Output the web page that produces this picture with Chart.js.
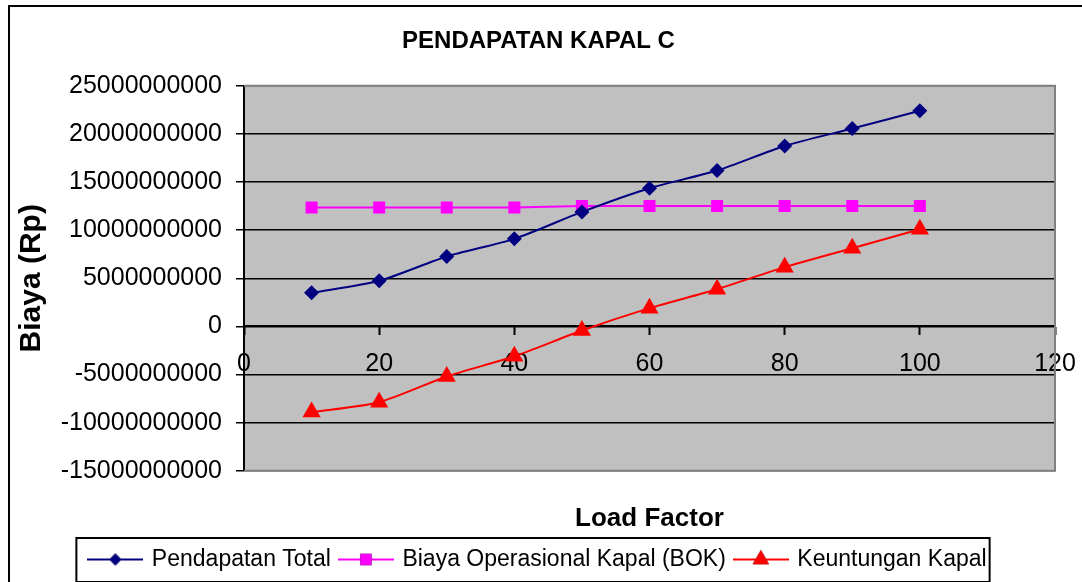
<!DOCTYPE html>
<html lang="id">
<head>
    <meta charset="UTF-8">
    <title>Pendapatan Kapal C</title>
    <script src="https://cdn.jsdelivr.net/npm/chart.js"></script>
    <style>
        body { margin: 0; background: #fff; overflow: hidden; }
        .wrap { width: 1082px; height: 582px; }
    </style>
</head>
<body>
    <div class="wrap">
        <canvas id="myChart"></canvas>
    </div>
<script>
    // load factor (x) and the three series
    const loadFactor = [10, 20, 30, 40, 50, 60, 70, 80, 90, 100];
    const pendapatanTotal = [3490000000, 4740000000, 7270000000, 9100000000, 11900000000, 14360000000, 16200000000, 18750000000, 20560000000, 22400000000];
    const biayaOperasional = [12350000000, 12350000000, 12350000000, 12350000000, 12500000000, 12500000000, 12500000000, 12500000000, 12500000000, 12500000000];
    const keuntungan = [-8900000000, -7870000000, -5200000000, -3100000000, -430000000, 1900000000, 3870000000, 6160000000, 8130000000, 10100000000];
    const seriesNames = ['Pendapatan Total', 'Biaya Operasional Kapal (BOK)', 'Keuntungan Kapal'];

    const toPoints = vals => loadFactor.map((x, i) => ({ x: x, y: vals[i] }));

    // small line + marker icons for the legend
    const makeIcon = (color, style, r) => {
        const c = document.createElement('canvas');
        c.width = 56; c.height = 24;
        const g = c.getContext('2d');
        g.strokeStyle = color;
        g.lineWidth = 2;
        g.beginPath(); g.moveTo(0, 12); g.lineTo(56, 12); g.stroke();
        Chart.helpers.drawPoint(g, { pointStyle: style, radius: r, borderWidth: 0 }, 28, 12);
        g.fillStyle = color;
        g.fill();
        return c;
    };

    const plotBg = {
        id: 'plotBg',
        beforeDraw(chart) {
            const { ctx, chartArea: a } = chart;
            ctx.save();
            ctx.fillStyle = '#fff';
            ctx.fillRect(0, 0, chart.width, chart.height);
            ctx.strokeStyle = '#000';
            ctx.lineWidth = 2;
            ctx.strokeRect(9, 6, 1200, 700);
            ctx.fillStyle = '#c0c0c0';
            ctx.fillRect(a.left, a.top, a.right - a.left, a.bottom - a.top);
            ctx.restore();
        },
        beforeDatasetsDraw(chart) {
            const { ctx, chartArea: a } = chart;
            ctx.save();
            ctx.strokeStyle = '#808080';
            ctx.lineWidth = 2;
            ctx.beginPath();
            ctx.moveTo(a.left, a.top); ctx.lineTo(a.right, a.top);
            ctx.lineTo(a.right, a.bottom); ctx.lineTo(a.left, a.bottom);
            ctx.stroke();
            ctx.restore();
        },
        afterDraw(chart) {
            const hb = chart.legend.legendHitBoxes;
            if (!hb || !hb.length) return;
            const { ctx } = chart;
            const first = hb[0], last = hb[hb.length - 1];
            ctx.save();
            ctx.strokeStyle = '#000';
            ctx.lineWidth = 2;
            ctx.strokeRect(first.left - 14, first.top - 10, last.left + last.width - first.left + 17, 44);
            ctx.restore();
        }
    };

    const data = {
        datasets: [{
            label: seriesNames[0],
            data: toPoints(pendapatanTotal),
            borderColor: '#000080',
            backgroundColor: '#000080',
            pointStyle: 'rectRot',
            pointRadius: 7.5,
        }, {
            label: seriesNames[1],
            data: toPoints(biayaOperasional),
            borderColor: '#ff00ff',
            backgroundColor: '#ff00ff',
            pointStyle: 'rect',
            pointRadius: 8.5,
        }, {
            label: seriesNames[2],
            data: toPoints(keuntungan),
            borderColor: '#ff0000',
            backgroundColor: '#ff0000',
            pointStyle: 'triangle',
            pointRadius: 10.5,
        }]
    };

    const icons = [
        makeIcon('#000080', 'rectRot', 6),
        makeIcon('#ff00ff', 'rect', 8),
        makeIcon('#ff0000', 'triangle', 9.5),
    ];

    const config = {
        type: 'line',
        data: data,
        options: {
            responsive: true,
            maintainAspectRatio: false,
            animation: false,
            layout: { padding: { left: 22, right: 27, top: 0, bottom: 1 } },
            elements: {
                line: { borderWidth: 2, tension: 0.25 },
                point: { borderWidth: 0, hoverRadius: 8 }
            },
            plugins: {
                title: {
                    display: true,
                    text: 'PENDAPATAN KAPAL C',
                    color: '#000',
                    font: { family: 'Liberation Sans, Arial', size: 24, weight: 'bold' },
                    padding: { top: 27, bottom: 30 }
                },
                subtitle: {
                    display: true,
                    position: 'bottom',
                    fullSize: false,
                    weight: 500,
                    text: 'Load Factor',
                    color: '#000',
                    font: { family: 'Liberation Sans, Arial', size: 26, weight: 'bold' },
                    padding: { top: 32, bottom: 4 }
                },
                legend: {
                    position: 'bottom',
                    labels: {
                        usePointStyle: true,
                        pointStyleWidth: 50,
                        padding: 10,
                        color: '#000',
                        font: { family: 'Liberation Sans, Arial', size: 23 },
                        generateLabels: chart => Chart.defaults.plugins.legend.labels.generateLabels(chart)
                            .map((l, i) => ({ ...l, pointStyle: icons[i] }))
                    }
                },
                tooltip: { enabled: true }
            },
            scales: {
                x: {
                    type: 'linear',
                    position: { y: 0 },
                    min: 0,
                    max: 120,
                    afterFit: scale => { scale.paddingLeft = 0; scale.paddingRight = 0; },
                    ticks: {
                        stepSize: 20,
                        color: '#000',
                        padding: 15,
                        font: { family: 'Liberation Sans, Arial', size: 25 }
                    },
                    grid: { drawOnChartArea: false, tickLength: 8, tickColor: '#000', tickWidth: 2 },
                    border: { color: '#000', width: 2 }
                },
                y: {
                    min: -15000000000,
                    max: 25000000000,
                    afterFit: scale => { scale.width = 222; },
                    ticks: {
                        stepSize: 5000000000,
                        color: '#000',
                        padding: 14,
                        font: { family: 'Liberation Sans, Arial', size: 25 },
                        callback: v => String(v)
                    },
                    grid: {
                        color: c => (c.tick && (c.tick.value === 25000000000 || c.tick.value === -15000000000)) ? '#808080' : '#000',
                        lineWidth: 1.5,
                        tickLength: 8,
                        tickColor: '#000'
                    },
                    border: { color: '#000', width: 2 },
                    title: {
                        display: true,
                        text: 'Biaya (Rp)',
                        color: '#000',
                        font: { family: 'Liberation Sans, Arial', size: 30, weight: 'bold' },
                        padding: { top: -8, bottom: 0 }
                    }
                }
            }
        },
        plugins: [plotBg]
    };

    const myChart = new Chart(document.getElementById('myChart'), config);
</script>
</body>
</html>
